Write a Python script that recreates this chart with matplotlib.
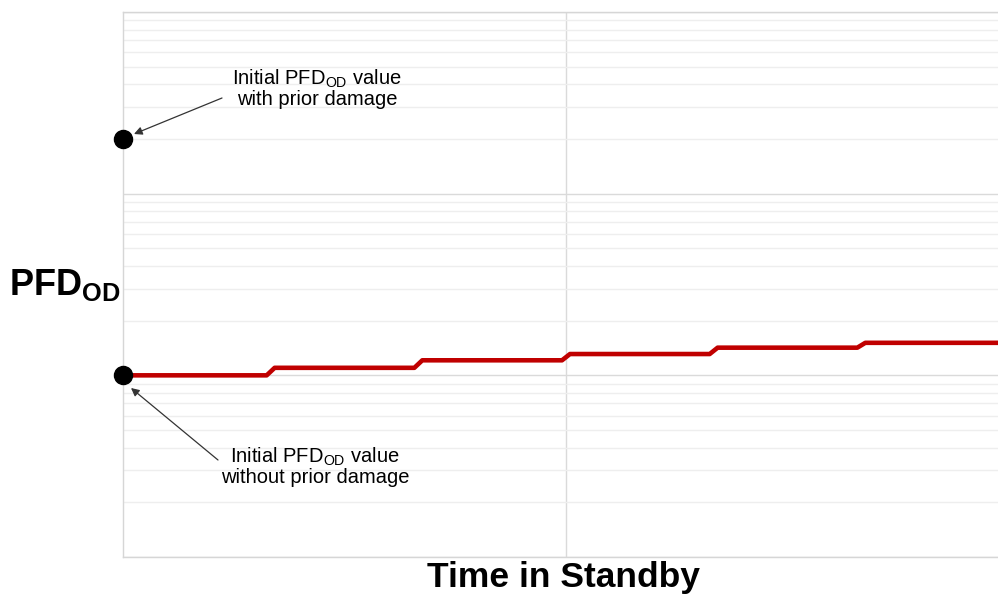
#!/usr/bin/env python3

import numpy as np
import matplotlib
matplotlib.use('Agg')
import matplotlib.pyplot as plt

# step times (in units of the half-axis) and the PFD level after each step
step_times = [0.0, 1 / 3, 2 / 3, 1.0, 4 / 3, 5 / 3]
pfd_levels = [1.0e-3, 1.10e-3, 1.21e-3, 1.31e-3, 1.42e-3, 1.51e-3]
t_end = 2.0

# the two starting points marked with dots
start_no_damage = 1.0e-3
start_prior_damage = 2.0e-2

label_prior = 'Initial PFD$_{\\mathrm{OD}}$ value\nwith prior damage'
label_no_prior = 'Initial PFD$_{\\mathrm{OD}}$ value\nwithout prior damage'

plt.rcParams['font.family'] = ['Liberation Sans', 'DejaVu Sans']
plt.rcParams['mathtext.fontset'] = 'custom'
plt.rcParams['mathtext.rm'] = 'Liberation Sans'
plt.rcParams['mathtext.bf'] = 'Liberation Sans:bold'

W, H = 998, 594


# convert pixel position (from top-left) to figure fraction
def fpix(x, y):
	return (x / W, 1 - y / H)


# build the stepped line with a short slanted ramp at each step
def stepped_line(times, levels, end, ramp=0.009):
	xs = [times[0]]
	ys = [levels[0]]
	for i in range(1, len(times)):
		xs += [times[i] - ramp, times[i] + ramp]
		ys += [levels[i - 1], levels[i]]
	xs.append(end)
	ys.append(levels[-1])
	return xs, ys


def main():
	fig = plt.figure(figsize=(W / 100, H / 100), dpi=100)
	# axes run past the right edge of the picture
	ax = fig.add_axes([123 / W, 1 - 557 / H, 886 / W, 545 / H])

	ax.set_yscale('log')
	ax.set_ylim(1e-4, 1e-1)
	ax.set_xlim(0, t_end)
	ax.set_xticks([1.0])
	ax.set_yticks([1e-4, 1e-3, 1e-2, 1e-1])
	ax.tick_params(which='both', length=0, labelbottom=False, labelleft=False)

	ax.grid(True, which='major', axis='both', color='#dadada', linewidth=1)
	ax.grid(True, which='minor', axis='y', color='#eeeeee', linewidth=1)
	ax.set_axisbelow(True)
	for side in ['left', 'bottom', 'top']:
		ax.spines[side].set_color('#d6d6d6')
		ax.spines[side].set_linewidth(1)
	ax.spines['right'].set_visible(False)

	xs, ys = stepped_line(step_times, pfd_levels, t_end)
	ax.plot(xs, ys, color='#c00000', linewidth=3.3, zorder=3)

	ax.plot([0, 0], [start_no_damage, start_prior_damage], 'o', color='black',
		markersize=13, clip_on=False, zorder=5)

	# annotation texts
	fig.text(*fpix(317, 88), label_prior, ha='center', va='center', fontsize=14.5,
		linespacing=1.0)
	fig.text(*fpix(315, 466), label_no_prior, ha='center', va='center', fontsize=14.5,
		linespacing=1.0)

	# arrows pointing at the dots
	arrow = dict(arrowstyle='-|>', color='#333333', linewidth=0.9, mutation_scale=12,
		shrinkA=0, shrinkB=0)
	ax.annotate('', xy=fpix(134, 134), xycoords='figure fraction',
		xytext=fpix(222, 98), textcoords='figure fraction', arrowprops=arrow)
	ax.annotate('', xy=fpix(131, 388), xycoords='figure fraction',
		xytext=fpix(218, 460), textcoords='figure fraction', arrowprops=arrow)

	fig.text(*fpix(65, 285), 'PFD$_{\\mathbf{OD}}$', fontsize=26, fontweight='bold',
		ha='center', va='center')
	fig.text(*fpix(563, 578), 'Time in Standby', fontsize=25.5, fontweight='bold',
		ha='center', va='center')

	fig.savefig('out.png', dpi=100)


if __name__ == '__main__':
	main()
